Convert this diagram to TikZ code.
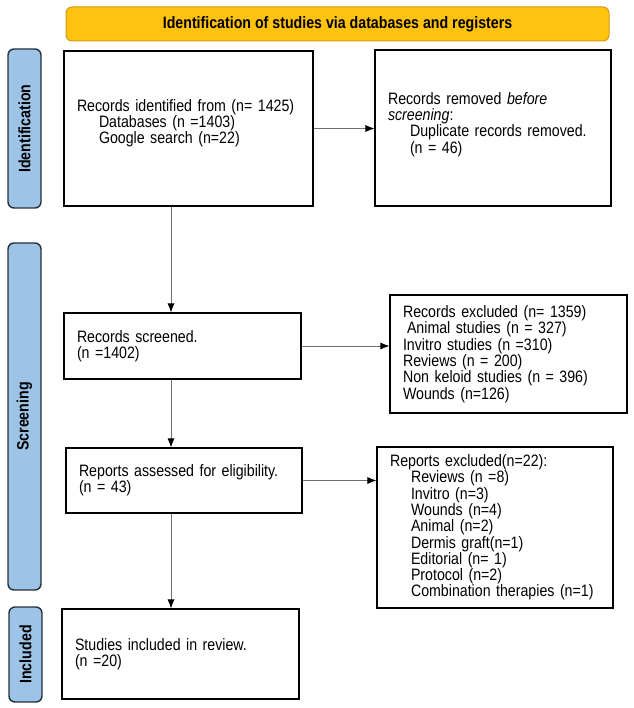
\documentclass[tikz,border=0pt]{standalone}
\usepackage{fontspec}
\setmainfont{Liberation Sans}[FakeStretch=0.86]
\usetikzlibrary{arrows.meta}
\definecolor{bannergold}{HTML}{FFC20E}
\definecolor{bannerline}{HTML}{D29B12}
\definecolor{phaseblue}{HTML}{9DC3E6}
\definecolor{phaseline}{HTML}{26313C}
\definecolor{flowgray}{HTML}{707070}
\begin{document}
\begin{tikzpicture}[x=1pt,y=-1pt,
  font=\fontsize{16.5pt}{16.3pt}\selectfont,
  box/.style={draw=black,line width=1.1pt,fill=white,align=left,inner xsep=13pt,inner ysep=0pt},
  phase/.style={draw=phaseline,fill=phaseblue,line width=1.4pt,rounded corners=6pt,rotate=90,minimum height=33pt,font=\fontsize{16.5pt}{16pt}\selectfont\bfseries},
  banner/.style={draw=bannerline,fill=bannergold,line width=1pt,rounded corners=6pt,font=\fontsize{16.5pt}{16pt}\selectfont\bfseries},
  flow/.style={draw=flowgray,line width=0.8pt,-{Latex[length=9pt,width=7pt,color=black]}}]
\useasboundingbox (0,0) rectangle (633,708);
\node[banner,minimum width=543pt,minimum height=34pt] (head) at (337.5,24) {Identification of studies via databases and registers};
\node[phase,minimum width=159pt] (idbar) at (24.5,128.5) {Identification};
\node[phase,minimum width=347pt] (scbar) at (24.5,416.5) {Screening};
\node[phase,minimum width=95pt] (inbar) at (25.5,654.5) {Included};
\node[box,text width=223pt,minimum height=155pt] (found) at (188.5,128.5) {Records identified from (n= 1425)\\\hspace*{22pt}Databases (n =1403)\\\hspace*{22pt}Google search (n=22)\\[-2pt]\mbox{}};
\node[box,text width=210pt,minimum height=156pt] (dupes) at (493,128) {Records removed \textit{before}\\\textit{screening}:\\\hspace*{22pt}Duplicate records removed.\\\hspace*{22pt}(n = 46)\\[-6pt]\mbox{}};
\node[box,text width=211pt,minimum height=66pt] (screened) at (182.5,346) {Records screened.\\(n =1402)};
\node[box,text width=211pt,minimum height=118pt] (excluded) at (508.5,354) {Records excluded (n= 1359)\\\hspace*{4pt}Animal studies (n = 327)\\Invitro studies (n =310)\\Reviews (n = 200)\\Non keloid studies (n = 396)\\Wounds (n=126)};
\node[box,text width=210pt,minimum height=65pt] (assessed) at (184,480.5) {Reports assessed for eligibility.\\(n = 43)};
\node[box,text width=210pt,minimum height=161pt] (dropped) at (495,527.5) {Reports excluded(n=22):\\\hspace*{21pt}Reviews (n =8)\\\hspace*{21pt}Invitro (n=3)\\\hspace*{21pt}Wounds (n=4)\\\hspace*{21pt}Animal (n=2)\\\hspace*{21pt}Dermis graft(n=1)\\\hspace*{21pt}Editorial (n= 1)\\\hspace*{21pt}Protocol (n=2)\\\hspace*{21pt}Combination therapies (n=1)};
\node[box,text width=211pt,minimum height=90pt] (included) at (180.5,654) {Studies included in review.\\(n =20)};
\coordinate (spine) at (171,0);
\draw[flow] (found.south -| spine) -- (screened.north -| spine);
\draw[flow] (screened.south -| spine) -- (assessed.north -| spine);
\draw[flow] (assessed.south -| spine) -- (included.north -| spine);
\draw[flow] (found.east) -- (found.east -| dupes.west);
\draw[flow] (screened.east) -- (screened.east -| excluded.west);
\draw[flow] (assessed.east) -- (assessed.east -| dropped.west);
\end{tikzpicture}
\end{document}
